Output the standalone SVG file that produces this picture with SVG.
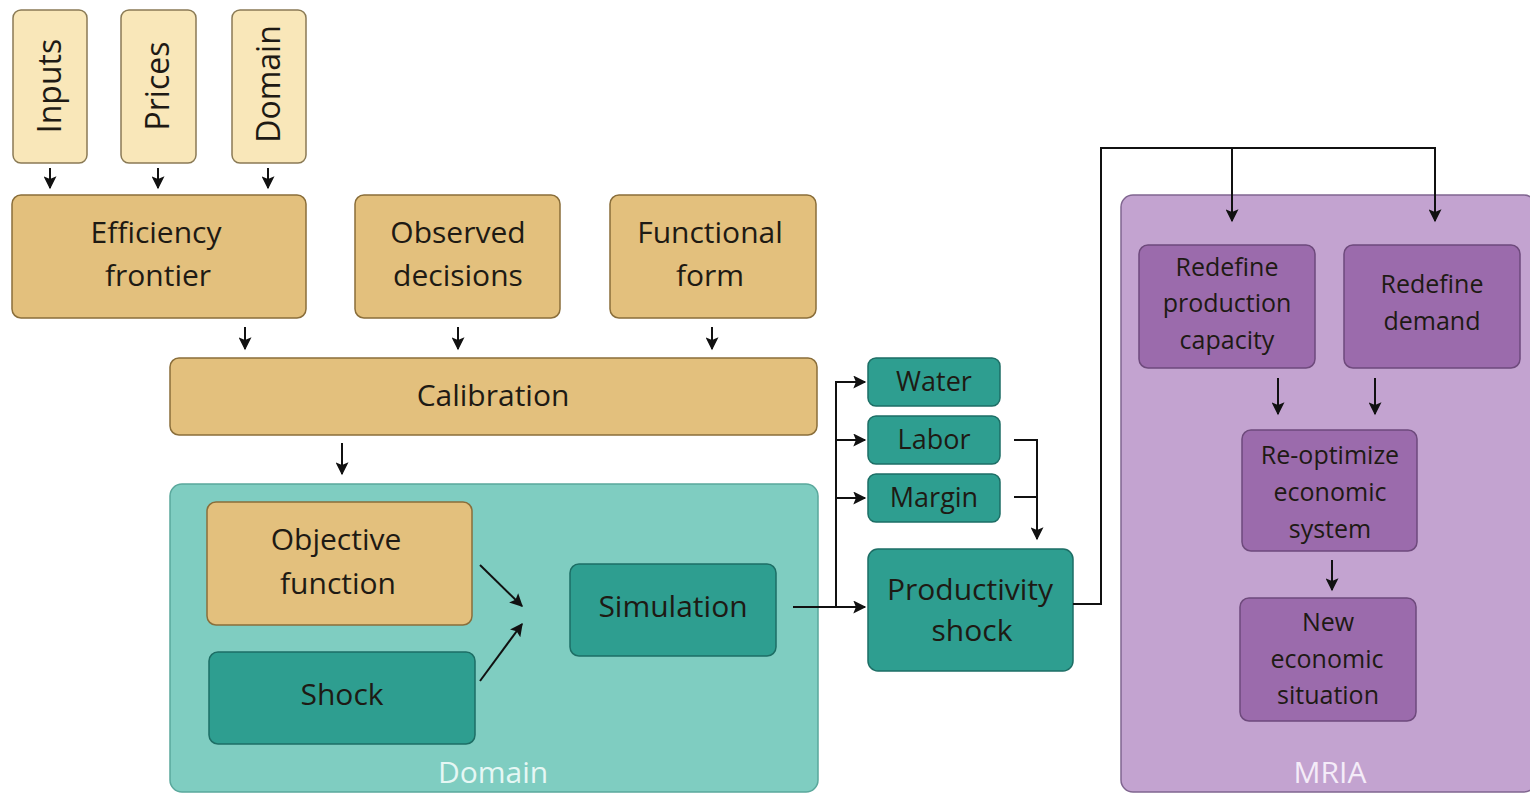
<svg xmlns="http://www.w3.org/2000/svg" width="1530" height="795" viewBox="0 0 1530 795">
<defs>
<marker id="ah" viewBox="0 0 10 10" refX="9" refY="5" markerWidth="14" markerHeight="13" orient="auto" markerUnits="userSpaceOnUse">
<path d="M0,0 L10,5 L0,10 L2,5 z" fill="#111"/>
</marker>
<style>
text{font-family:"Open Sans","Liberation Sans",sans-serif;fill:#1e1a14;text-anchor:middle}
.light{fill:#f9e7b9;stroke:#8a7a55;stroke-width:1.5}
.tan{fill:#e3c07d;stroke:#8a6e3a;stroke-width:1.5}
.teal{fill:#2e9e90;stroke:#1d6e65;stroke-width:1.5}
.tealbg{fill:#7fcdc1;stroke:#5aa89c;stroke-width:1.5}
.purp{fill:#9b6bac;stroke:#6e4a7c;stroke-width:1.5}
.purpbg{fill:#c3a3d0;stroke:#806690;stroke-width:1.5}
.c{fill:none;stroke:#111;stroke-width:2}
.big{font-size:30px}
.vert{font-size:32px}
.mid{font-size:27px}
.sm{font-size:25px}
</style>
</defs>
<rect width="1530" height="795" fill="#fff"/>

<g id="domain-container">
<rect class="tealbg" x="170" y="484" width="648" height="308" rx="12"/>
<text x="493" y="783" class="big" style="fill:#e6f7f4">Domain</text>
</g>
<g id="mria-container">
<rect class="purpbg" x="1121" y="195" width="415" height="597" rx="12"/>
<text x="1330" y="783" class="big" style="fill:#f4ecf8">MRIA</text>
</g>

<g id="inputs"><rect class="light" x="13" y="10" width="74" height="153" rx="8"/><text transform="translate(61,86) rotate(-90)" class="vert">Inputs</text></g>
<g id="prices"><rect class="light" x="121" y="10" width="75" height="153" rx="8"/><text transform="translate(169,86) rotate(-90)" class="vert">Prices</text></g>
<g id="domain-input"><rect class="light" x="232" y="10" width="74" height="153" rx="8"/><text transform="translate(280,84) rotate(-90)" class="vert">Domain</text></g>

<g id="efficiency"><rect class="tan" x="12" y="195" width="294" height="123" rx="9"/><text x="156" y="243" class="big">Efficiency</text><text x="158" y="286" class="big">frontier</text></g>
<g id="observed"><rect class="tan" x="355" y="195" width="205" height="123" rx="9"/><text x="458" y="243" class="big">Observed</text><text x="458" y="286" class="big">decisions</text></g>
<g id="functional"><rect class="tan" x="610" y="195" width="206" height="123" rx="9"/><text x="710" y="243" class="big">Functional</text><text x="710" y="286" class="big">form</text></g>

<g id="calibration"><rect class="tan" x="170" y="358" width="647" height="77" rx="9"/><text x="493" y="406" class="big">Calibration</text></g>

<g id="objective"><rect class="tan" x="207" y="502" width="265" height="123" rx="9"/><text x="336" y="550" class="big">Objective</text><text x="338" y="594" class="big">function</text></g>
<g id="shock"><rect class="teal" x="209" y="652" width="266" height="92" rx="9"/><text x="342" y="705" class="big">Shock</text></g>
<g id="simulation"><rect class="teal" x="570" y="564" width="206" height="92" rx="9"/><text x="673" y="617" class="big">Simulation</text></g>

<g id="water"><rect class="teal" x="868" y="358" width="132" height="48" rx="8"/><text x="934" y="391" class="mid">Water</text></g>
<g id="labor"><rect class="teal" x="868" y="416" width="132" height="48" rx="8"/><text x="934" y="449" class="mid">Labor</text></g>
<g id="margin"><rect class="teal" x="868" y="474" width="132" height="48" rx="8"/><text x="934" y="507" class="mid">Margin</text></g>
<g id="productivity"><rect class="teal" x="868" y="549" width="205" height="122" rx="10"/><text x="970" y="600" class="big">Productivity</text><text x="972" y="641" class="big">shock</text></g>

<g id="redefine-capacity"><rect class="purp" x="1139" y="245" width="176" height="123" rx="9"/><text x="1227" y="276" class="sm">Redefine</text><text x="1227" y="312" class="sm">production</text><text x="1227" y="349" class="sm">capacity</text></g>
<g id="redefine-demand"><rect class="purp" x="1344" y="245" width="176" height="123" rx="9"/><text x="1432" y="293" class="sm">Redefine</text><text x="1432" y="330" class="sm">demand</text></g>
<g id="reoptimize"><rect class="purp" x="1242" y="430" width="175" height="121" rx="9"/><text x="1330" y="464" class="sm">Re-optimize</text><text x="1330" y="501" class="sm">economic</text><text x="1330" y="538" class="sm">system</text></g>
<g id="new-situation"><rect class="purp" x="1240" y="598" width="176" height="123" rx="9"/><text x="1328" y="631" class="sm">New</text><text x="1327" y="668" class="sm">economic</text><text x="1328" y="704" class="sm">situation</text></g>

<g id="connectors">
<line class="c" x1="50" y1="168" x2="50" y2="188" marker-end="url(#ah)"/>
<line class="c" x1="158" y1="168" x2="158" y2="188" marker-end="url(#ah)"/>
<line class="c" x1="268" y1="168" x2="268" y2="188" marker-end="url(#ah)"/>
<line class="c" x1="245" y1="327" x2="245" y2="349" marker-end="url(#ah)"/>
<line class="c" x1="458" y1="327" x2="458" y2="349" marker-end="url(#ah)"/>
<line class="c" x1="712" y1="327" x2="712" y2="349" marker-end="url(#ah)"/>
<line class="c" x1="342" y1="443" x2="342" y2="474" marker-end="url(#ah)"/>
<line class="c" x1="480" y1="565" x2="522" y2="606" marker-end="url(#ah)"/>
<line class="c" x1="480" y1="681" x2="522" y2="624" marker-end="url(#ah)"/>
<polyline class="c" points="793,607 865,607" marker-end="url(#ah)"/>
<polyline class="c" points="836,607 836,382 865,382" marker-end="url(#ah)"/>
<line class="c" x1="836" y1="440" x2="865" y2="440" marker-end="url(#ah)"/>
<line class="c" x1="836" y1="498" x2="865" y2="498" marker-end="url(#ah)"/>
<polyline class="c" points="1014,440 1037,440 1037,539" marker-end="url(#ah)"/>
<line class="c" x1="1014" y1="497" x2="1037" y2="497"/>
<polyline class="c" points="1073,604 1101,604 1101,148 1435,148 1435,221" marker-end="url(#ah)"/>
<line class="c" x1="1232" y1="148" x2="1232" y2="221" marker-end="url(#ah)"/>
<line class="c" x1="1278" y1="378" x2="1278" y2="414" marker-end="url(#ah)"/>
<line class="c" x1="1375" y1="378" x2="1375" y2="414" marker-end="url(#ah)"/>
<line class="c" x1="1332" y1="560" x2="1332" y2="590" marker-end="url(#ah)"/>
</g>
</svg>
